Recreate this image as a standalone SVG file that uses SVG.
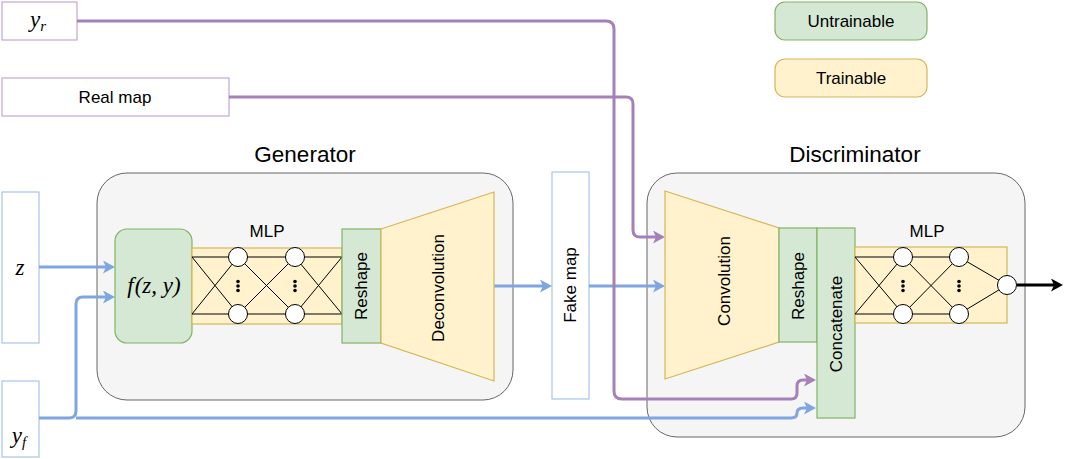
<svg xmlns="http://www.w3.org/2000/svg" width="1065" height="459" viewBox="0 0 1065 459">
<style>
.grp{fill:#f5f5f5;stroke:#666666;stroke-width:1}
.grn{fill:#d5e8d4;stroke:#82b366;stroke-width:1.2}
.yel{fill:#fff2cc;stroke:#d6b656;stroke-width:1.2}
.inP{fill:#ffffff;stroke:#c3a6d9;stroke-width:1.2}
.inB{fill:#ffffff;stroke:#a9c4eb;stroke-width:1.2}
.t{font-family:"Liberation Sans",Arial,sans-serif;font-size:17px;fill:#000;text-anchor:middle}
.title{font-family:"Liberation Sans",Arial,sans-serif;font-size:22.5px;fill:#000;text-anchor:middle}
.m{font-family:"Liberation Serif","Times New Roman",serif;font-style:italic;font-size:23px;fill:#000;text-anchor:middle}
.nn{stroke:#000;stroke-width:1;fill:none}
.cir{fill:#ffffff;stroke:#000;stroke-width:1}
.cb{fill:none;stroke:#7ea6e0;stroke-width:3}
.cp{fill:none;stroke:#a680b8;stroke-width:3}
.ck{fill:none;stroke:#000;stroke-width:3}
</style>
<defs>
<marker id="aB" viewBox="0 0 12 13" refX="8" refY="6.5" markerWidth="12" markerHeight="13" markerUnits="userSpaceOnUse" orient="auto"><path d="M0,0 L12,6.5 L0,13 L3,6.5 Z" fill="#7ea6e0"/></marker>
<marker id="aP" viewBox="0 0 12 13" refX="8" refY="6.5" markerWidth="12" markerHeight="13" markerUnits="userSpaceOnUse" orient="auto"><path d="M0,0 L12,6.5 L0,13 L3,6.5 Z" fill="#a680b8"/></marker>
<marker id="aK" viewBox="0 0 12 13" refX="8" refY="6.5" markerWidth="12" markerHeight="13" markerUnits="userSpaceOnUse" orient="auto"><path d="M0,0 L12,6.5 L0,13 L3,6.5 Z" fill="#000"/></marker>
</defs>

<g id="legend-untrainable"><rect class="grn" x="775" y="2" width="152" height="38" rx="10"/><text class="t" x="851" y="27">Untrainable</text></g>
<g id="legend-trainable"><rect class="yel" x="775" y="59" width="152" height="38" rx="10"/><text class="t" x="851" y="84">Trainable</text></g>

<g id="generator"><rect class="grp" x="97" y="173" width="416" height="227" rx="30"/><text class="title" x="305" y="162">Generator</text></g>
<g id="discriminator"><rect class="grp" x="647" y="173" width="378" height="264" rx="30"/><text class="title" x="855" y="162">Discriminator</text></g>

<g id="y_r"><rect class="inP" x="2" y="2" width="75" height="38"/><text class="m" x="38" y="27">y<tspan font-size="15" dy="4">r</tspan></text></g>
<g id="real-map"><rect class="inP" x="2" y="78" width="227" height="38"/><text class="t" x="115" y="103">Real map</text></g>
<g id="z"><rect class="inB" x="2" y="192" width="37" height="151"/><text class="m" x="20" y="275">z</text></g>
<g id="y_f"><rect class="inB" x="2" y="381" width="37" height="76"/><text class="m" x="19" y="443">y<tspan font-size="15" dy="4">f</tspan></text></g>
<g id="fake-map"><rect class="inB" x="552" y="172" width="37" height="227"/><text class="t" transform="translate(576,285) rotate(-90)">Fake map</text></g>

<g id="connectors">
<path class="cb" d="M39,267 H111" marker-end="url(#aB)"/>
<path class="cb" d="M39,418 H69 Q76,418 76,411 V304 Q76,297 83,297 H111" marker-end="url(#aB)"/>
<path class="cb" d="M76,418 H791 Q797,418 797,413 Q797,408 803,408 H812" marker-end="url(#aB)"/>
<path class="cb" d="M494,286 H548" marker-end="url(#aB)"/>
<path class="cb" d="M589,286 H661" marker-end="url(#aB)"/>
<path class="cp" d="M77,21 H606 Q614,21 614,29 V391 Q614,399 622,399 H791 Q797,399 797,393 V386 Q797,380 803,380 H812" marker-end="url(#aP)"/>
<path class="cp" d="M229,97 H626 Q633,97 633,104 V230 Q633,237 640,237 H661" marker-end="url(#aP)"/>
<path class="ck" d="M1017,285 H1059" marker-end="url(#aK)"/>
</g>

<g id="f-zy"><rect class="grn" x="115" y="229" width="77" height="114" rx="12"/><text class="m" x="154" y="293">f<tspan dx="1">(z, y)</tspan></text></g>

<g id="gen-mlp">
<rect class="yel" x="192" y="248" width="150" height="76"/>
<text class="t" x="267" y="237">MLP</text>
<path class="nn" d="M192,257 H238 M192,257 L238,314 M192,314 L238,257 M192,314 H238 M238,257 H295 M238,257 L295,314 M238,314 L295,257 M238,314 H295 M295,257 H342 M295,257 L342,314 M295,314 L342,257 M295,314 H342"/>
<circle class="cir" cx="238" cy="257" r="9.5"/><circle class="cir" cx="238" cy="314" r="9.5"/>
<circle class="cir" cx="295" cy="257" r="9.5"/><circle class="cir" cx="295" cy="314" r="9.5"/>
<circle cx="238" cy="281.5" r="1.8"/><circle cx="238" cy="286" r="1.8"/><circle cx="238" cy="290.5" r="1.8"/>
<circle cx="295" cy="281.5" r="1.8"/><circle cx="295" cy="286" r="1.8"/><circle cx="295" cy="290.5" r="1.8"/>
</g>

<g id="gen-reshape"><rect class="grn" x="342" y="229" width="39" height="114"/><text class="t" transform="translate(367,286) rotate(-90)">Reshape</text></g>
<g id="deconvolution"><polygon class="yel" points="381,229 494,192 494,381 381,343"/><text class="t" transform="translate(444,288) rotate(-90)">Deconvolution</text></g>

<g id="convolution"><polygon class="yel" points="665,191 779,228 779,342 665,379"/><text class="t" transform="translate(730,281) rotate(-90)">Convolution</text></g>
<g id="disc-reshape"><rect class="grn" x="779" y="228" width="38" height="114"/><text class="t" transform="translate(804,286) rotate(-90)">Reshape</text></g>
<g id="concatenate"><rect class="grn" x="817" y="228" width="38" height="190"/><text class="t" transform="translate(842,324) rotate(-90)">Concatenate</text></g>

<g id="disc-mlp">
<rect class="yel" x="855" y="247" width="152" height="76"/>
<text class="t" x="927" y="237">MLP</text>
<path class="nn" d="M855,257 H903 M855,257 L903,314 M855,314 L903,257 M855,314 H903 M903,257 H959 M903,257 L959,314 M903,314 L959,257 M903,314 H959 M959,257 L1007,285 M959,314 L1007,285"/>
<circle class="cir" cx="903" cy="257" r="9.5"/><circle class="cir" cx="903" cy="314" r="9.5"/>
<circle class="cir" cx="959" cy="257" r="9.5"/><circle class="cir" cx="959" cy="314" r="9.5"/>
<circle class="cir" cx="1007" cy="285" r="9.5"/>
<circle cx="903" cy="281.5" r="1.8"/><circle cx="903" cy="286" r="1.8"/><circle cx="903" cy="290.5" r="1.8"/>
<circle cx="959" cy="281.5" r="1.8"/><circle cx="959" cy="286" r="1.8"/><circle cx="959" cy="290.5" r="1.8"/>
</g>
</svg>
